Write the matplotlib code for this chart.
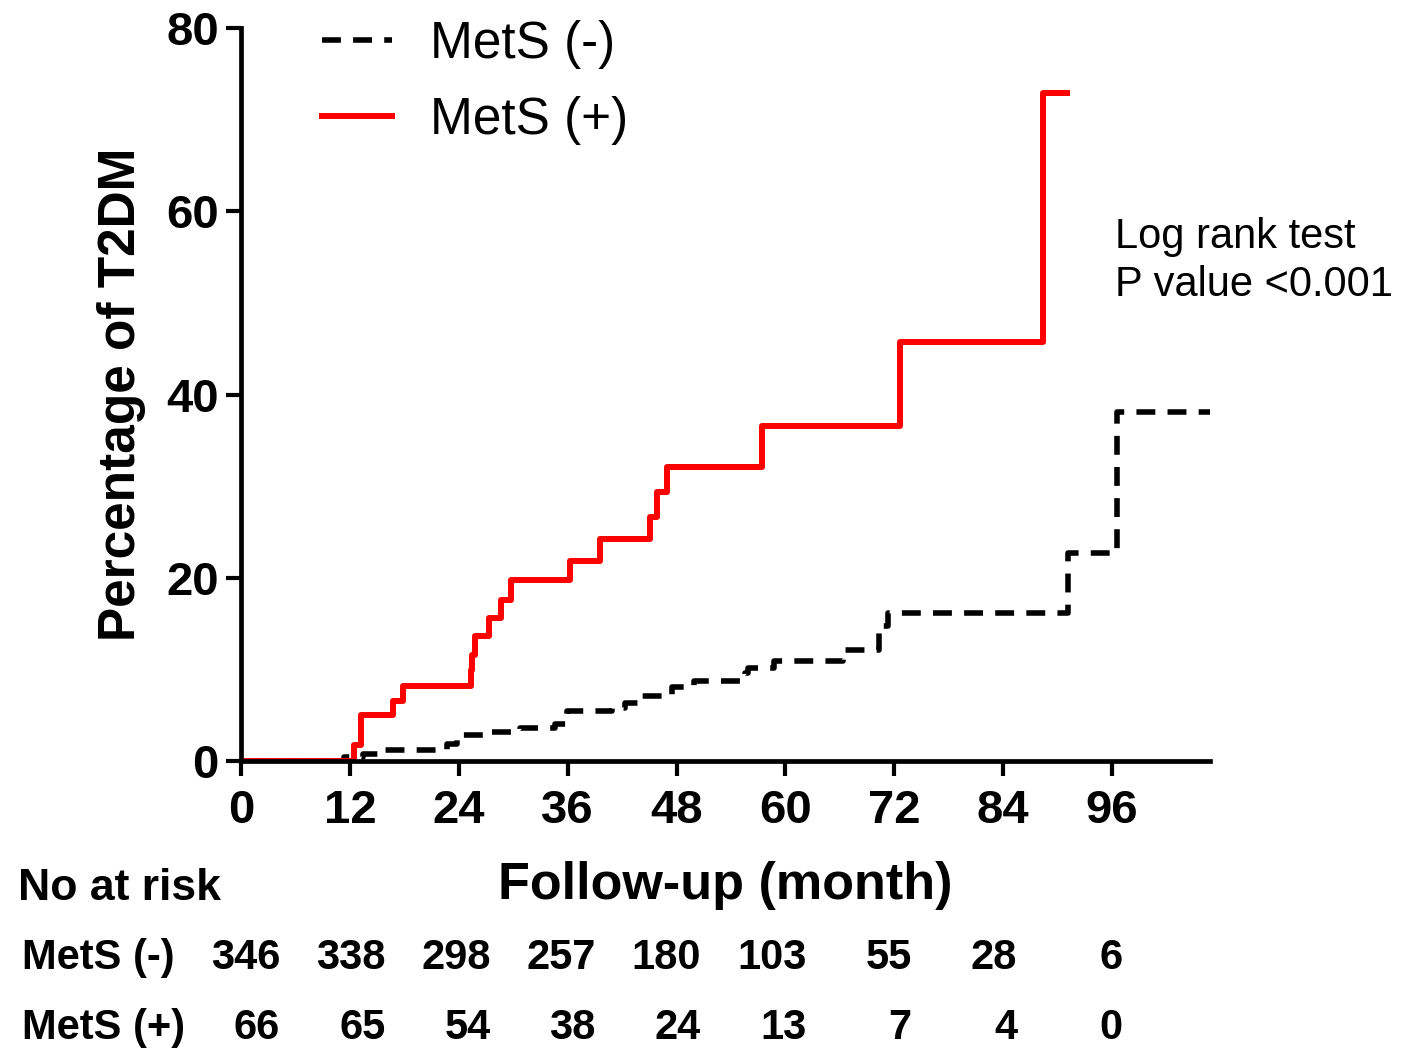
import matplotlib
matplotlib.use("Agg")
import matplotlib.pyplot as plt
from matplotlib.lines import Line2D

plt.rcParams['font.family'] = ['Liberation Sans', 'DejaVu Sans']

# 누적 발생률 (%) - 단계 함수, 각 시점부터 값이 유지됨
neg_time = [0, 11.3, 13.5, 15.3, 22.7, 23.8, 27.6, 30.7, 34.6, 35.9, 40.9, 42.3,
            44.2, 47.5, 49.9, 55.5, 55.9, 58.7, 66.4, 70.3, 71.3, 91.1, 96.5, 106.8]
neg_pct = [0, 0.4, 0.8, 1.2, 1.9, 2.8, 3.2, 3.6, 4.0, 5.5, 5.8, 6.3,
           7.1, 8.1, 8.7, 9.6, 10.2, 10.9, 12.1, 14.7, 16.2, 22.7, 38.1, 38.1]

pos_time = [0, 12.4, 13.2, 16.8, 17.9, 25.3, 25.5, 25.8, 27.3, 28.7, 29.8, 36.3,
            39.6, 45.1, 45.9, 46.9, 57.4, 72.6, 88.4, 91.0]
pos_pct = [0, 1.7, 5.0, 6.5, 8.2, 9.9, 11.6, 13.6, 15.6, 17.6, 19.7, 21.8,
           24.2, 26.6, 29.4, 32.1, 36.6, 45.7, 72.9, 72.9]

x_ticks = [0, 12, 24, 36, 48, 60, 72, 84, 96]
y_ticks = [0, 20, 40, 60, 80]

# 위험 대상자 수
risk_neg = [346, 338, 298, 257, 180, 103, 55, 28, 6]
risk_pos = [66, 65, 54, 38, 24, 13, 7, 4, 0]

W, H = 1402, 1059


def fx(x):
    return x / W


def fy(y):
    return 1 - y / H


fig = plt.figure(figsize=(W / 100, H / 100), dpi=100)
ax = fig.add_axes([fx(241), fy(761), (1210 - 241) / W, (761 - 28) / H])

ax.step(neg_time, neg_pct, where='post', color='black', lw=4.0,
        dashes=(3.4, 2.2), solid_joinstyle='miter')
ax.step(pos_time, pos_pct, where='post', color='#ff0000', lw=4.3)

ax.set_xlim(0, 106.8)
ax.set_ylim(0, 80)
ax.set_xticks(x_ticks)
ax.set_yticks(y_ticks)
for s in ['top', 'right']:
    ax.spines[s].set_visible(False)
for s in ['left', 'bottom']:
    ax.spines[s].set_linewidth(3.4)
ax.tick_params(axis='both', width=3.0, length=11, labelsize=34)
ax.tick_params(axis='x', pad=9)
ax.tick_params(axis='y', pad=5)
for lab in ax.get_xticklabels() + ax.get_yticklabels():
    lab.set_fontweight('bold')

ax.set_xlabel('Follow-up (month)', fontsize=37.5, fontweight='bold')
ax.xaxis.set_label_coords(0.5, -0.136)
ax.set_ylabel('Percentage of T2DM', fontsize=37, fontweight='bold')
ax.yaxis.set_label_coords(-0.098, 0.5)

handles = [Line2D([], [], color='black', lw=4.0, dashes=(3.4, 2.2)),
           Line2D([], [], color='#ff0000', lw=4.3)]
ax.legend(handles, ['MetS (-)', 'MetS (+)'], loc='upper left',
          bbox_to_anchor=(fx(322), fy(20)), bbox_transform=fig.transFigure,
          frameon=False, fontsize=37, handlelength=1.36, handletextpad=0.74,
          labelspacing=0.52, borderpad=0, borderaxespad=0)

fig.text(fx(1115), fy(217), 'Log rank test\nP value <0.001', fontsize=30,
         ha='left', va='top', linespacing=1.25)

# 위험 대상자 표
fig.text(fx(18), fy(888), 'No at risk', fontsize=32, fontweight='bold',
         ha='left', va='center')
fig.text(fx(22), fy(958), 'MetS (-)', fontsize=30, fontweight='bold',
         ha='left', va='center')
fig.text(fx(22), fy(1028), 'MetS (+)', fontsize=30, fontweight='bold',
         ha='left', va='center')
for i, (a, b) in enumerate(zip(risk_neg, risk_pos)):
    xr = 280 + 105.3 * i
    fig.text(fx(xr), fy(958), str(a), fontsize=30, fontweight='bold',
             ha='right', va='center')
    fig.text(fx(xr), fy(1028), str(b), fontsize=30, fontweight='bold',
             ha='right', va='center')

fig.savefig('out.png', dpi=100)
